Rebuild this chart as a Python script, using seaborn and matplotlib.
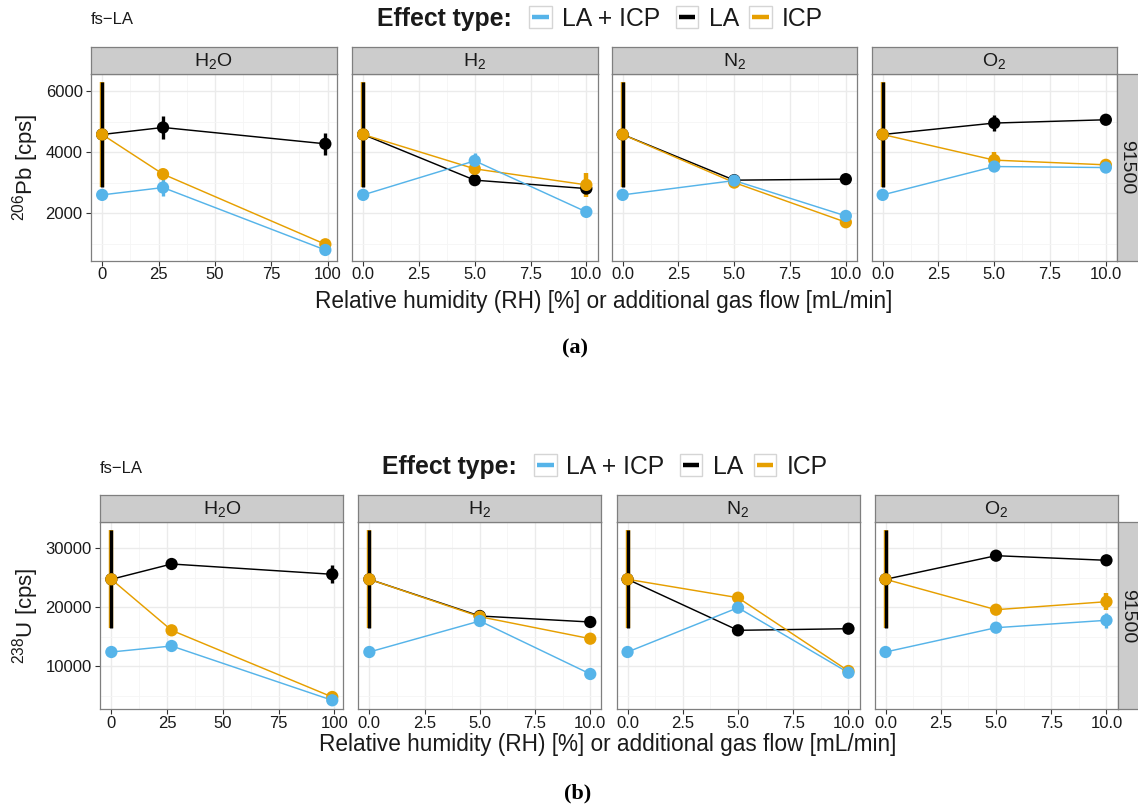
import numpy as np
import pandas as pd
import matplotlib
matplotlib.use("Agg")
import matplotlib.pyplot as plt
import seaborn as sns
from matplotlib.patches import Rectangle
from matplotlib.lines import Line2D

sns.set_theme(style="white")
plt.rcParams["font.family"] = ["Liberation Sans", "DejaVu Sans"]
plt.rcParams["mathtext.default"] = "regular"

# ---------------------------------------------------------------- data
gases = ["H2O", "H2", "N2", "O2"]
gas_labels = ["H$_2$O", "H$_2$", "N$_2$", "O$_2$"]
rh_levels = [0, 27, 99]          # relative humidity [%]
flow_levels = [0, 5, 10]         # additional gas flow [mL/min]
rh_ticks = [0, 25, 50, 75, 100]
rh_tick_labels = ["0", "25", "50", "75", "100"]
flow_ticks = [0, 2.5, 5, 7.5, 10]
flow_tick_labels = ["0.0", "2.5", "5.0", "7.5", "10.0"]

effects = ["LA + ICP", "LA", "ICP"]          # legend order
draw_order = ["LA", "ICP", "LA + ICP"]       # plotting order
palette = {"LA + ICP": "#56B4E9", "LA": "#000000", "ICP": "#E69F00"}
sample = "91500"

# 206Pb signal [cps]
pb_la = {"H2O": [4577, 4807, 4272], "H2": [4577, 3082, 2807],
         "N2": [4577, 3082, 3115], "O2": [4577, 4951, 5059]}
pb_icp = {"H2O": [4577, 3279, 983], "H2": [4577, 3453, 2928],
          "N2": [4577, 3003, 1705], "O2": [4577, 3738, 3584]}
pb_la_icp = {"H2O": [2600, 2840, 797], "H2": [2600, 3715, 2043],
             "N2": [2600, 3069, 1911], "O2": [2600, 3528, 3495]}
pb_la_err = {"H2O": [1705, 371, 365], "H2": [1705, 100, 120],
             "N2": [1705, 50, 60], "O2": [1705, 274, 100]}
pb_icp_err = {"H2O": [1705, 120, 80], "H2": [1705, 100, 384],
              "N2": [1705, 60, 60], "O2": [1705, 262, 80]}
pb_la_icp_err = {"H2O": [0, 283, 60], "H2": [0, 246, 40],
                 "N2": [0, 60, 50], "O2": [0, 100, 60]}

# 238U signal [cps]
u_la = {"H2O": [24747, 27340, 25594], "H2": [24747, 18526, 17509],
        "N2": [24747, 16100, 16373], "O2": [24747, 28749, 27967]}
u_icp = {"H2O": [24747, 16100, 4796], "H2": [24747, 18407, 14680],
         "N2": [24747, 21628, 9203], "O2": [24747, 19594, 20950]}
u_la_icp = {"H2O": [12424, 13441, 4237], "H2": [12424, 17678, 8695],
            "N2": [12424, 19933, 8915], "O2": [12424, 16543, 17797]}
u_la_err = {"H2O": [8330, 400, 1551], "H2": [8330, 300, 300],
            "N2": [8330, 300, 300], "O2": [8330, 400, 300]}
u_icp_err = {"H2O": [8330, 500, 300], "H2": [8330, 300, 300],
             "N2": [8330, 300, 200], "O2": [8330, 300, 1415]}
u_la_icp_err = {"H2O": [0, 300, 150], "H2": [0, 300, 300],
                "N2": [0, 300, 300], "O2": [0, 300, 1271]}

pb_yticks = [2000, 4000, 6000]
u_yticks = [10000, 20000, 30000]
pb_ylim = (436, 6557)
u_ylim = (2711, 34408)

# ---------------------------------------------------------------- figure
W, H = 1138, 811
fig = plt.figure(figsize=(W / 100, H / 100), dpi=100)
fig.patch.set_facecolor("white")

TEXT = "#1A1A1A"
BORDER = "#7F7F7F"


def fbox(l, t, r, b):
    return [l / W, 1 - b / H, (r - l) / W, (b - t) / H]


def fx(x):
    return x / W


def fy(y):
    return 1 - y / H


def draw_block(values, errors, ylabel, yticks, ylim, lay):
    strip_top, panel_top, panel_bot, lefts, width = lay
    step = yticks[1] - yticks[0]
    yminor = [t - step / 2 for t in yticks] + [yticks[-1] + step / 2]

    for i, gas in enumerate(gases):
        left = lefts[i]
        right = left + width
        ax = fig.add_axes(fbox(left, panel_top, right, panel_bot))
        xs = rh_levels if gas == "H2O" else flow_levels
        rows = []
        for eff in draw_order:
            for x, v, e in zip(xs, values[eff][gas], errors[eff][gas]):
                rows.append({"x": x, "value": v, "err": e, "effect": eff})
        df = pd.DataFrame(rows)

        sns.lineplot(data=df, x="x", y="value", hue="effect",
                     hue_order=draw_order, palette=palette, estimator=None,
                     sort=False, lw=1.05, legend=False, ax=ax, zorder=2)
        for eff, lw in [("ICP", 3.2), ("LA", 2.4), ("LA + ICP", 2.4)]:
            sub = df[(df["effect"] == eff) & (df["err"] > 0)]
            ax.vlines(sub["x"], sub["value"] - sub["err"],
                      sub["value"] + sub["err"], color=palette[eff],
                      lw=lw, zorder=3)
        sns.scatterplot(data=df, x="x", y="value", hue="effect",
                        palette=palette, s=78, linewidth=0, legend=False,
                        ax=ax, zorder=4)

        span = max(xs) - min(xs)
        ax.set_xlim(min(xs) - 0.05 * span, max(xs) + 0.05 * span)
        ax.set_ylim(*ylim)
        if gas == "H2O":
            ticks, labels = rh_ticks, rh_tick_labels
        else:
            ticks, labels = flow_ticks, flow_tick_labels
        ax.set_xticks(ticks)
        ax.set_xticklabels(labels)
        d = ticks[1] - ticks[0]
        ax.set_xticks([t + d / 2 for t in ticks[:-1]], minor=True)
        ax.set_yticks(yticks)
        ax.set_yticklabels([str(t) for t in yticks])
        ax.set_yticks(yminor, minor=True)
        ax.set_ylim(*ylim)
        ax.set_xlabel("")
        ax.set_ylabel("")
        ax.set_facecolor("white")
        ax.grid(which="major", color="#EBEBEB", lw=1.0)
        ax.grid(which="minor", color="#F5F5F5", lw=0.6)
        ax.set_axisbelow(True)
        for sp in ax.spines.values():
            sp.set_color(BORDER)
            sp.set_linewidth(0.9)
        ax.tick_params(which="minor", length=0)
        ax.tick_params(axis="x", which="major", bottom=True, length=3.5,
                       width=0.8, color="#333333", pad=1.0,
                       labelsize=12, labelcolor=TEXT)
        if i == 0:
            ax.tick_params(axis="y", which="major", left=True, length=3.5,
                           width=0.8, color="#333333", pad=2.5,
                           labelsize=12, labelcolor=TEXT)
        else:
            ax.tick_params(axis="y", which="both", left=False,
                           labelleft=False)

        # facet strip
        sax = fig.add_axes(fbox(left, strip_top, right, panel_top))
        sax.set_facecolor("#CCCCCC")
        sax.set_xticks([])
        sax.set_yticks([])
        for sp in sax.spines.values():
            sp.set_color(BORDER)
            sp.set_linewidth(0.9)
        sax.text(0.5, 0.48, gas_labels[i], ha="center", va="center",
                 fontsize=14, color=TEXT, transform=sax.transAxes)

    # row strip on the right
    r_edge = lefts[-1] + width
    rax = fig.add_axes(fbox(r_edge, panel_top, r_edge + 27, panel_bot))
    rax.set_facecolor("#CCCCCC")
    rax.set_xticks([])
    rax.set_yticks([])
    for sp in rax.spines.values():
        sp.set_color(BORDER)
        sp.set_linewidth(0.9)
    fig.text(fx(r_edge + 10), fy((panel_top + panel_bot) / 2), sample,
             rotation=-90, ha="center", va="center", fontsize=14,
             color=TEXT)

    fig.text(fx(26), fy((panel_top + panel_bot) / 2), ylabel,
             rotation=90, ha="center", va="center", fontsize=16,
             color=TEXT)


def draw_legend(baseline, yc, title_x, box_lefts, label_xs):
    fig.text(fx(title_x), fy(baseline), "Effect type:", fontsize=17.8,
             fontweight="bold", ha="left", va="baseline", color=TEXT)
    for eff, bl, lx in zip(effects, box_lefts, label_xs):
        fig.add_artist(Rectangle((fx(bl), fy(yc + 11)), 22.5 / W, 22 / H,
                                 transform=fig.transFigure,
                                 facecolor="white", edgecolor="#D5D5D5",
                                 lw=1.0))
        fig.add_artist(Line2D([fx(bl + 3), fx(bl + 19.5)], [fy(yc), fy(yc)],
                              transform=fig.transFigure,
                              color=palette[eff], lw=3.2,
                              solid_capstyle="butt"))
        fig.text(fx(lx), fy(baseline), eff, fontsize=17.8, ha="left",
                 va="baseline", color=TEXT)


xlabel = "Relative humidity (RH) [%] or additional gas flow [mL/min]"

# ---- (a) 206Pb
draw_block({"LA": pb_la, "ICP": pb_icp, "LA + ICP": pb_la_icp},
           {"LA": pb_la_err, "ICP": pb_icp_err, "LA + ICP": pb_la_icp_err},
           "$^{206}$Pb [cps]", pb_yticks, pb_ylim,
           (47, 74, 261, [91, 352, 611.5, 871.5], 245.5))
draw_legend(26, 17, 377, [529.3, 675.5, 749.3], [562, 709, 782])
fig.text(fx(91), fy(24), "fs\u2212LA", fontsize=12, ha="left",
         va="baseline", color=TEXT)
fig.text(fx(604), fy(308), xlabel, fontsize=16.3, ha="center",
         va="baseline", color=TEXT)
fig.text(fx(575), fy(348), "(a)", fontsize=16, fontweight="bold",
         family=["Liberation Serif", "DejaVu Serif"], ha="center",
         va="center", color="black")

# ---- (b) 238U
draw_block({"LA": u_la, "ICP": u_icp, "LA + ICP": u_la_icp},
           {"LA": u_la_err, "ICP": u_icp_err, "LA + ICP": u_la_icp_err},
           "$^{238}$U [cps]", u_yticks, u_ylim,
           (495, 522.3, 709.3, [100.3, 358.3, 616.5, 874.5], 243))
draw_legend(474.3, 465, 382, [534, 679.6, 753.7], [566.5, 713, 787])
fig.text(fx(100), fy(473), "fs\u2212LA", fontsize=12, ha="left",
         va="baseline", color=TEXT)
fig.text(fx(608), fy(751), xlabel, fontsize=16.3, ha="center",
         va="baseline", color=TEXT)
fig.text(fx(578), fy(793), "(b)", fontsize=16, fontweight="bold",
         family=["Liberation Serif", "DejaVu Serif"], ha="center",
         va="center", color="black")

fig.savefig("out.png", dpi=100, facecolor="white")
